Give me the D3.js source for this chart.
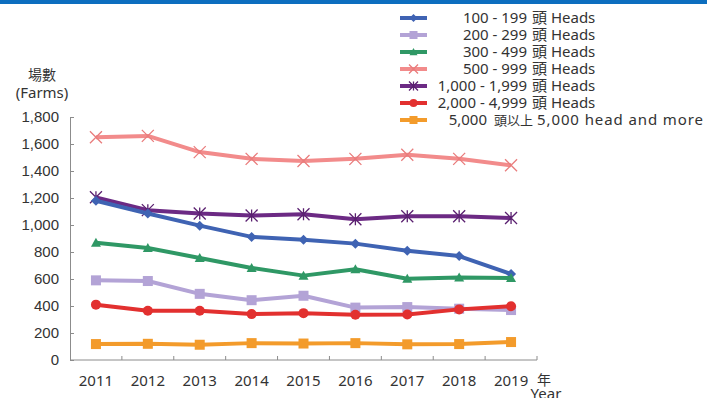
<!DOCTYPE html>
<html>
<head>
<meta charset="utf-8">
<script src="https://cdn.jsdelivr.net/npm/d3@7"></script>
<style>
  html, body { margin: 0; padding: 0; background: #fff; }
  svg { display: block; font-family: "Noto Sans", "Noto Sans CJK TC", sans-serif; }
</style>
</head>
<body>
<svg id="chart" width="707" height="398"></svg>
<script>
// Farm counts by herd size, 2011–2019
const years = ["2011", "2012", "2013", "2014", "2015", "2016", "2017", "2018", "2019"];
const yTicks = [0, 200, 400, 600, 800, 1000, 1200, 1400, 1600, 1800];

const seriesNames = [
  ["100 - 199", "頭 Heads"],
  ["200 - 299", "頭 Heads"],
  ["300 - 499", "頭 Heads"],
  ["500 - 999", "頭 Heads"],
  ["1,000 - 1,999", "頭 Heads"],
  ["2,000 - 4,999", "頭 Heads"],
  ["5,000", "頭以上", "5,000 head and more"]
];
const heads100 = [1180, 1085, 995, 912, 890, 862, 810, 770, 637];
const heads200 = [590, 585, 490, 443, 476, 388, 392, 380, 370];
const heads300 = [868, 830, 756, 682, 625, 672, 602, 612, 608];
const heads500 = [1650, 1660, 1540, 1490, 1474, 1490, 1520, 1490, 1442];
const heads1000 = [1205, 1110, 1085, 1070, 1080, 1042, 1065, 1065, 1052];
const heads2000 = [410, 365, 365, 340, 347, 335, 337, 375, 398];
const heads5000 = [118, 120, 113, 125, 122, 125, 116, 118, 133];

const seriesValues = [heads100, heads200, heads300, heads500, heads1000, heads2000, heads5000];
const colors = ["#3f63b3", "#b3a3d6", "#2f9865", "#f28b8b", "#6c2a84", "#e2302f", "#f39b2b"];
const markers = ["diamond", "square", "triangle", "cross", "asterisk", "circle", "square"];

const svg = d3.select("#chart");

// banner strip along the top edge
svg.append("rect").attr("x", 0).attr("y", 0).attr("width", 707).attr("height", 4).attr("fill", "#0d6ebf");

const x = d3.scaleBand().domain(years).range([70, 537]);
const y = d3.scaleLinear().domain([0, 1800]).range([360, 117]);

const axisColor = "#8c8c8c";
const textColor = "#333";

// y axis: line, inside ticks, labels
const yAxis = svg.append("g").attr("transform", `translate(${x.range()[0]},0)`)
  .call(d3.axisLeft(y).tickValues(yTicks).tickSizeInner(-4).tickSizeOuter(0).tickPadding(11)
    .tickFormat(d3.format(",")));
yAxis.select(".domain").attr("stroke", axisColor);
yAxis.selectAll(".tick line").attr("stroke", axisColor);
yAxis.selectAll(".tick text").attr("fill", textColor).style("font-size", "15px");

// x axis: line with tick marks between categories, labels at category centers
const xg = svg.append("g").attr("transform", `translate(0,${y(0)})`);
xg.append("line").attr("x1", x.range()[0]).attr("x2", x.range()[1]).attr("stroke", axisColor);
const bounds = years.map(d => x(d)).concat([x.range()[1]]).slice(1);
xg.selectAll(".xtick").data(bounds).join("line").attr("class", "xtick")
  .attr("x1", d => d).attr("x2", d => d).attr("y1", 0).attr("y2", -4).attr("stroke", axisColor);
xg.selectAll(".xlab").data(years).join("text").attr("class", "xlab")
  .attr("x", d => x(d) + x.bandwidth() / 2).attr("y", 26)
  .attr("text-anchor", "middle").attr("fill", textColor).style("font-size", "15px").text(d => d);

// axis titles
svg.append("text").attr("x", 42).attr("y", 80).attr("text-anchor", "middle").attr("fill", textColor)
  .style("font-size", "14px").text("場數");
svg.append("text").attr("x", 42).attr("y", 98).attr("text-anchor", "middle").attr("fill", textColor)
  .style("font-size", "15px").text("(Farms)");
svg.append("text").attr("x", 537).attr("y", 385).attr("fill", textColor)
  .style("font-size", "14px").text("年");
svg.append("text").attr("x", 546).attr("y", 399).attr("text-anchor", "middle").attr("fill", textColor)
  .style("font-size", "15px").text("Year");

function drawMarker(g, type, color, size) {
  const s = size;
  if (type === "diamond") {
    g.append("path").attr("d", `M0,${-s}L${s},0L0,${s}L${-s},0Z`).attr("fill", color);
  } else if (type === "square") {
    g.append("rect").attr("x", -s).attr("y", -s).attr("width", 2 * s).attr("height", 2 * s).attr("fill", color);
  } else if (type === "triangle") {
    g.append("path").attr("d", `M0,${-s}L${s},${s * 0.8}L${-s},${s * 0.8}Z`).attr("fill", color);
  } else if (type === "circle") {
    g.append("circle").attr("r", s).attr("fill", color);
  } else if (type === "cross") {
    g.append("path").attr("d", `M${-s},${-s}L${s},${s}M${-s},${s}L${s},${-s}`)
      .attr("stroke", color).attr("stroke-width", 1.3).attr("fill", "none");
  } else if (type === "asterisk") {
    g.append("path").attr("d", `M${-s},${-s}L${s},${s}M${-s},${s}L${s},${-s}M0,${-s}L0,${s}`)
      .attr("stroke", color).attr("stroke-width", 1.3).attr("fill", "none");
  }
}

const markerSize = { diamond: 5, square: 5, triangle: 5, circle: 5, cross: 6, asterisk: 6 };
const markerColor = (i) => {
  if (markers[i] === "cross") return "#e97c7c";
  if (markers[i] === "asterisk") return "#5a2070";
  return colors[i];
};

const line = d3.line().x((d, i) => x(years[i]) + x.bandwidth() / 2).y(d => y(d));

// draw in back-to-front order
const order = [3, 4, 0, 2, 1, 5, 6];
order.forEach(i => {
  const g = svg.append("g");
  g.append("path").datum(seriesValues[i]).attr("d", line)
    .attr("fill", "none").attr("stroke", colors[i]).attr("stroke-width", 4).attr("stroke-linejoin", "round");
  seriesValues[i].forEach((v, j) => {
    const m = g.append("g").attr("transform", `translate(${x(years[j]) + x.bandwidth() / 2},${y(v)})`);
    drawMarker(m, markers[i], markerColor(i), markerSize[markers[i]]);
  });
});

// legend
const legend = svg.append("g").style("font-size", "15px").attr("fill", textColor);
seriesNames.forEach((nm, i) => {
  const ly = 18 + i * 17;
  const row = legend.append("g");
  row.append("line").attr("x1", 400).attr("x2", 427).attr("y1", ly).attr("y2", ly)
    .attr("stroke", colors[i]).attr("stroke-width", 4);
  const m = row.append("g").attr("transform", `translate(413.5,${ly})`);
  drawMarker(m, markers[i], markerColor(i), markers[i] === "cross" || markers[i] === "asterisk" ? 4.5 : 4);
  if (nm.length === 2) {
    row.append("text").attr("x", 527).attr("y", ly + 5).attr("text-anchor", "end").text(nm[0]);
    row.append("text").attr("x", 532).attr("y", ly + 5).text(nm[1]);
  } else {
    row.append("text").attr("x", 487).attr("y", ly + 5).attr("text-anchor", "end").text(nm[0]);
    row.append("text").attr("x", 494).attr("y", ly + 5).style("font-size", "13px").text(nm[1]);
    row.append("text").attr("x", 537).attr("y", ly + 5)
      .style("letter-spacing", "0.9px").text(nm[2]);
  }
});
</script>
</body>
</html>
